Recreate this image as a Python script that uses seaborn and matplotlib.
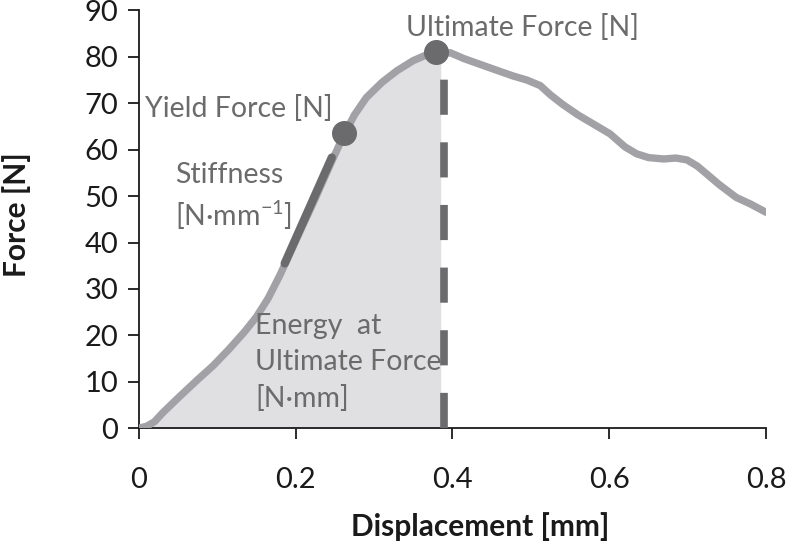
import matplotlib
matplotlib.use("Agg")
import matplotlib.pyplot as plt
import seaborn as sns
import numpy as np
import pandas as pd

# ---- data ----
displacement = [0.0, 0.01, 0.02, 0.031, 0.05, 0.074, 0.095, 0.116, 0.135, 0.150, 0.165, 0.180,
                0.195, 0.210, 0.225, 0.246, 0.261, 0.275, 0.290, 0.310, 0.329, 0.350, 0.365,
                0.379, 0.385, 0.397, 0.415, 0.435, 0.455, 0.477, 0.495, 0.512, 0.525, 0.541,
                0.560, 0.580, 0.601, 0.620, 0.635, 0.650, 0.669, 0.685, 0.699, 0.712, 0.724,
                0.740, 0.762, 0.780, 0.800]
force = [0.0, 0.4, 1.4, 3.4, 6.5, 10.3, 13.5, 17.2, 20.8, 24.0, 28.0, 33.0,
         38.5, 44.0, 49.5, 57.5, 63.0, 67.5, 71.2, 74.5, 77.0, 79.2, 80.3,
         81.0, 80.6, 80.9, 79.6, 78.4, 77.2, 75.9, 75.0, 73.8, 71.8, 69.7,
         67.5, 65.5, 63.4, 60.6, 59.1, 58.3, 58.0, 58.2, 57.8, 56.5, 54.8,
         52.5, 49.7, 48.3, 46.5]
ultimate_x = 0.385
yield_point = (0.261, 63.5)
ultimate_point = (0.379, 81.0)
dashed_x = 0.389
stiffness_x = [0.186, 0.246]
stiffness_y = [35.5, 58.3]

x_ticks = [0, 0.2, 0.4, 0.6, 0.8]
x_tick_labels = ["0", "0.2", "0.4", "0.6", "0.8"]
y_ticks = [0, 10, 20, 30, 40, 50, 60, 70, 80, 90]

df = pd.DataFrame({"Displacement": displacement, "Force": force})

sns.set_style("ticks")
plt.rcParams["font.family"] = ["Lato", "DejaVu Sans"]
plt.rcParams["mathtext.default"] = "regular"

fig = plt.figure(figsize=(7.89, 5.51), dpi=100)
ax = fig.add_axes([0.176, 0.223, 0.795, 0.758])

line_col = "#a2a2a6"
dark = "#6b6b6d"
text_col = "#6b6b6b"

# filled area (energy)
sub = df[df["Displacement"] <= ultimate_x]
ax.fill_between(sub["Displacement"], 0, sub["Force"], color="#e0e0e2", lw=0, zorder=1)

# curve
sns.lineplot(data=df, x="Displacement", y="Force", ax=ax, color=line_col, lw=5.3,
             solid_capstyle="round", solid_joinstyle="round", zorder=3)

# dashed line at ultimate force
ax.plot([dashed_x, dashed_x], [0, ultimate_point[1] - 1], color=dark, lw=5.5,
        dashes=(4.6, 3.6), zorder=4)

# stiffness segment
ax.plot(stiffness_x, stiffness_y, color=dark, lw=6, zorder=5)

# markers
ax.plot([yield_point[0]], [yield_point[1]], "o", color=dark, ms=17, zorder=6)
ax.plot([ultimate_point[0]], [ultimate_point[1]], "o", color=dark, ms=17, zorder=6)

# annotations
fs = 20.5
ax.text(0.489, 86.4, "Ultimate Force [N]", color=text_col, fontsize=fs, ha="center", va="center")
ax.text(0.008, 68.8, "Yield Force [N]", color=text_col, fontsize=fs, ha="left", va="center")
ax.text(0.046, 54.6, "Stiffness", color=text_col, fontsize=fs, ha="left", va="center")
ax.text(0.046, 45.9, "[N·mm$^{-1}$]", color=text_col, fontsize=fs, ha="left", va="center")
ax.text(0.148, 22.1, "Energy  at", color=text_col, fontsize=fs, ha="left", va="center")
ax.text(0.148, 14.3, "Ultimate Force", color=text_col, fontsize=fs, ha="left", va="center")
ax.text(0.148, 6.3, "[N·mm]", color=text_col, fontsize=fs, ha="left", va="center")

ax.set_xlim(0, 0.8)
ax.set_ylim(0, 90)
ax.set_xticks(x_ticks)
ax.set_xticklabels(x_tick_labels)
ax.set_yticks(y_ticks)
ax.tick_params(axis="both", labelsize=21, colors="#1a1a1a", length=8, width=1.3, pad=7)
ax.tick_params(axis="x", pad=20)
for s in ["top", "right"]:
    ax.spines[s].set_visible(False)
for s in ["left", "bottom"]:
    ax.spines[s].set_linewidth(1.3)
    ax.spines[s].set_color("#1a1a1a")

ax.set_xlabel("Displacement [mm]", fontsize=21.5, fontweight="bold", color="#1a1a1a")
ax.set_ylabel("Force [N]", fontsize=21.5, fontweight="bold", color="#1a1a1a")
ax.xaxis.set_label_coords(0.544, -0.2)
ax.yaxis.set_label_coords(-0.172, 0.51)

fig.savefig("out.png", dpi=100)
